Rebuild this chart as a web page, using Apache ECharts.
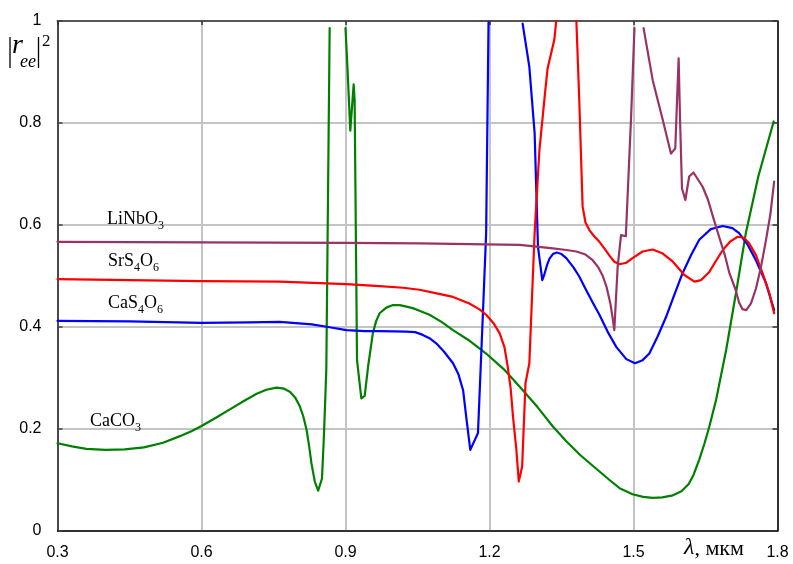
<!DOCTYPE html>
<html>
<head>
<meta charset="utf-8">
<script src="https://cdn.jsdelivr.net/npm/echarts@6/dist/echarts.min.js"></script>
<style>
html,body{margin:0;padding:0;background:#fff;}
#chart{width:793px;height:564px;}
</style>
</head>
<body>
<div id="chart"></div>
<script>
// ---- data (wavelength in µm, |r_ee|^2) ; null = gap (curve leaves the plot) ----
var xTicks = [0.3, 0.6, 0.9, 1.2, 1.5, 1.8];
var yTicks = [0, 0.2, 0.4, 0.6, 0.8, 1];

var caco3Lambda = [0.30,0.33,0.36,0.40,0.44,0.48,0.52,0.555,0.58,0.60,0.63,0.66,0.69,0.715,0.735,0.756,0.772,0.784,0.795,0.805,0.812,0.819,0.824,0.829,0.836,0.843,0.851,0.855,0.860,0.867,0.88,
  0.900,0.904,0.910,0.917,0.919,0.924,0.933,0.940,0.947,0.957,0.964,0.971,0.985,0.999,1.013,1.027,1.04,1.054,1.075,1.10,1.124,1.16,1.193,1.23,1.263,1.30,1.332,1.36,1.39,1.42,1.45,1.471,1.498,1.52,1.540,1.56,1.582,1.60,1.615,1.625,1.637,1.648,1.658,1.672,1.693,1.715,1.734,1.76,1.792];
var caco3R = [0.172,0.166,0.161,0.159,0.160,0.164,0.173,0.186,0.196,0.206,0.222,0.239,0.256,0.269,0.277,0.281,0.279,0.273,0.262,0.244,0.225,0.198,0.168,0.133,0.097,0.079,0.103,0.185,0.316,0.986,null,
  0.986,0.910,0.785,0.876,0.845,0.335,0.260,0.265,0.322,0.388,0.412,0.427,0.438,0.443,0.443,0.440,0.437,0.432,0.424,0.410,0.394,0.372,0.348,0.317,0.283,0.243,0.205,0.176,0.148,0.124,0.100,0.084,0.072,0.067,0.065,0.066,0.070,0.078,0.092,0.110,0.140,0.172,0.205,0.257,0.355,0.475,0.584,0.695,0.803];

var cas4o6Lambda = [0.30,0.45,0.60,0.70,0.763,0.83,0.87,0.902,0.94,0.971,1.027,1.045,1.06,1.075,1.089,1.105,1.124,1.135,1.145,1.152,1.160,1.176,1.186,1.193,1.198,1.23,
  1.269,1.283,1.294,1.301,1.310,1.314,1.320,1.325,1.332,1.340,1.350,1.360,1.375,1.387,1.401,1.415,1.429,1.446,1.464,1.485,1.503,1.519,1.533,1.550,1.568,1.585,1.602,1.620,1.637,1.661,1.686,1.706,1.720,1.738,1.755,1.776,1.793];
var cas4o6R = [0.412,0.411,0.408,0.409,0.410,0.405,0.399,0.394,0.392,0.392,0.391,0.390,0.385,0.378,0.368,0.352,0.329,0.308,0.276,0.220,0.159,0.192,0.420,0.584,0.998,null,
  0.995,0.910,0.780,0.557,0.492,0.502,0.522,0.534,0.543,0.546,0.543,0.535,0.517,0.499,0.473,0.448,0.424,0.391,0.361,0.337,0.329,0.335,0.348,0.381,0.420,0.463,0.505,0.541,0.571,0.592,0.598,0.594,0.584,0.561,0.531,0.486,0.433];

var srs4o6Lambda = [0.30,0.45,0.60,0.763,0.902,0.971,1.02,1.054,1.09,1.124,1.158,1.18,1.193,1.208,1.221,1.231,1.238,1.244,1.249,1.256,1.261,1.268,1.275,1.283,1.294,1.304,1.315,1.321,1.335,1.339,1.36,
  1.381,1.387,1.394,1.40,1.408,1.418,1.429,1.44,1.450,1.46,1.471,1.485,1.498,1.519,1.540,1.561,1.582,1.606,1.627,1.641,1.658,1.672,1.686,1.702,1.717,1.730,1.741,1.755,1.769,1.783,1.793];
var srs4o6R = [0.494,0.492,0.490,0.489,0.484,0.480,0.477,0.473,0.466,0.459,0.446,0.434,0.424,0.408,0.388,0.361,0.322,0.280,0.224,0.159,0.097,0.126,0.290,0.329,0.584,0.747,0.852,0.907,0.963,1.0,null,
  1.0,0.845,0.636,0.605,0.590,0.578,0.567,0.553,0.540,0.528,0.523,0.526,0.535,0.548,0.552,0.544,0.528,0.502,0.489,0.492,0.508,0.530,0.551,0.568,0.577,0.575,0.564,0.541,0.505,0.466,0.427];

var linbo3Lambda = [0.30,0.60,0.90,1.054,1.193,1.263,1.332,1.36,1.381,1.40,1.415,1.426,1.436,1.444,1.452,1.457,1.460,1.467,1.474,1.484,1.495,1.502,1.51,
  1.521,1.540,1.561,1.578,1.587,1.594,1.597,1.601,1.608,1.616,1.625,1.644,1.655,1.666,1.678,1.690,1.700,1.712,1.720,1.727,1.735,1.745,1.755,1.765,1.775,1.785,1.793];
var linbo3R = [0.567,0.566,0.565,0.564,0.562,0.561,0.554,0.551,0.548,0.542,0.531,0.518,0.500,0.478,0.445,0.415,0.394,0.518,0.580,0.578,0.812,0.986,null,
  0.986,0.884,0.806,0.740,0.750,0.927,0.806,0.672,0.649,0.695,0.703,0.675,0.650,0.615,0.578,0.542,0.505,0.475,0.448,0.435,0.433,0.447,0.475,0.515,0.565,0.620,0.685];

function pairs(xs, ys) {
  return xs.map(function (x, i) { return [x, ys[i] === null ? '-' : ys[i]]; });
}

var chart = echarts.init(document.getElementById('chart'), null, {renderer: 'canvas'});
var SANS = 'Liberation Sans, Arial, sans-serif';
var SERIF = 'Liberation Serif, Times New Roman, serif';

function mkSeries(name, xs, ys, color) {
  return {
    name: name, type: 'line', data: pairs(xs, ys), showSymbol: false, symbol: 'none',
    connectNulls: false, smooth: false, clip: true,
    lineStyle: {color: color, width: 2.2, join: 'round', cap: 'round'}, itemStyle: {color: color}
  };
}

function label(x, y, parts) {
  return {
    type: 'text', left: x, top: y, z: 100,
    style: {
      text: parts, fill: '#000',
      rich: {
        m: {fontSize: 18, fontFamily: SERIF, verticalAlign: 'top', lineHeight: 20, color: '#000'},
        s: {fontSize: 12, fontFamily: SERIF, verticalAlign: 'top', lineHeight: 12, padding: [10, 0, 0, 0], color: '#000'}
      }
    }
  };
}

var option = {
  backgroundColor: '#fff',
  animation: false,
  grid: {left: 57.5, right: 15.5, top: 21, bottom: 33, containLabel: false},
  xAxis: [{
    type: 'value', min: 0.3, max: 1.8, interval: 0.3, position: 'bottom',
    axisLine: {show: true, onZero: false, lineStyle: {color: '#000', width: 1.5}},
    axisTick: {show: false},
    axisLabel: {fontSize: 16, fontFamily: SANS, color: '#000', margin: 14,
      formatter: function (v) { return v.toFixed(1); }},
    splitLine: {show: true, lineStyle: {color: '#c4c4c4', width: 2}}
  }, {
    type: 'value', min: 0.3, max: 1.8, interval: 0.3, position: 'top',
    axisLine: {show: true, onZero: false, lineStyle: {color: '#555', width: 2}},
    axisTick: {show: true, inside: true, length: 4, lineStyle: {color: '#333', width: 1.5}},
    axisLabel: {show: false}, splitLine: {show: false}
  }],
  yAxis: [{
    type: 'value', min: 0, max: 1, interval: 0.2, position: 'left',
    axisLine: {show: true, onZero: false, lineStyle: {color: '#222', width: 1.5}},
    axisTick: {show: true, inside: true, length: 5, lineStyle: {color: '#444', width: 1.5}},
    axisLabel: {fontSize: 16, fontFamily: SANS, color: '#000', margin: 16,
      formatter: function (v) { return String(Math.round(v * 10) / 10); }},
    splitLine: {show: true, lineStyle: {color: '#c4c4c4', width: 2}}
  }, {
    type: 'value', min: 0, max: 1, interval: 0.2, position: 'right',
    axisLine: {show: true, onZero: false, lineStyle: {color: '#000', width: 1.5}},
    axisTick: {show: true, inside: true, length: 5, lineStyle: {color: '#333', width: 1.5}},
    axisLabel: {show: false}, splitLine: {show: false}
  }],
  series: [
    mkSeries('CaCO3', caco3Lambda, caco3R, '#008000'),
    mkSeries('CaS4O6', cas4o6Lambda, cas4o6R, '#0000ff'),
    mkSeries('SrS4O6', srs4o6Lambda, srs4o6R, '#ff0000'),
    mkSeries('LiNbO3', linbo3Lambda, linbo3R, '#993366')
  ],
  graphic: [
    label(107, 210, '{m|LiNbO}{s|3}'),
    label(108, 252, '{m|SrS}{s|4}{m|O}{s|6}'),
    label(108, 294, '{m|CaS}{s|4}{m|O}{s|6}'),
    label(90, 412, '{m|CaCO}{s|3}'),
    // y-axis title |r_ee|^2
    {type: 'line', z: 100, shape: {x1: 10, y1: 37, x2: 10, y2: 68}, style: {stroke: '#000', lineWidth: 1.3}},
    {type: 'line', z: 100, shape: {x1: 38.5, y1: 37, x2: 38.5, y2: 68}, style: {stroke: '#000', lineWidth: 1.3}},
    {type: 'text', z: 100, left: 12, top: 32, style: {text: 'r', font: 'italic 28px ' + SERIF, fill: '#000'}},
    {type: 'text', z: 100, left: 20, top: 53, style: {text: 'ee', font: 'italic 18px ' + SERIF, fill: '#000'}},
    {type: 'text', z: 100, left: 42, top: 33, style: {text: '2', font: '17px ' + SERIF, fill: '#000'}},
    // x-axis title
    {type: 'text', z: 100, left: 684, top: 536, style: {
      text: '{l|λ}{n|, мкм}',
      rich: {
        l: {font: 'italic 24px ' + SERIF, color: '#000', verticalAlign: 'bottom'},
        n: {font: '22px ' + SERIF, color: '#000', verticalAlign: 'bottom'}
      }
    }}
  ]
};
chart.setOption(option);
</script>
</body>
</html>
